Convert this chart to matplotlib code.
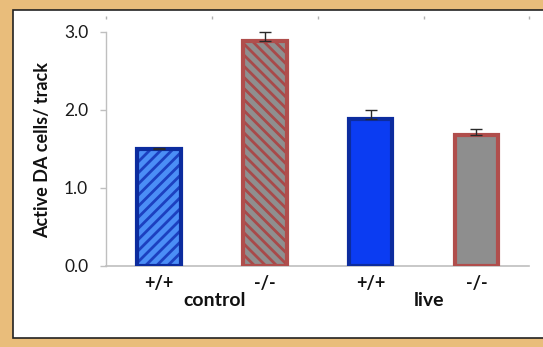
import matplotlib
matplotlib.use("Agg")
import matplotlib.pyplot as plt
from matplotlib.patches import Rectangle
from matplotlib.ticker import FixedLocator

# Data
genotypes = ["+/+", "-/-", "+/+", "-/-"]
groups = ["control", "live"]
values = [1.50, 2.88, 1.88, 1.67]
errors = [0.01, 0.12, 0.12, 0.08]
yticks = [0.0, 1.0, 2.0, 3.0]

# Styling per bar
fills = ["#4b8ef6", "#8f8f8f", "#0b3cf2", "#8e8e8e"]
edges = ["#0c2c9e", "#b04e4c", "#0c2c9e", "#b04e4c"]
hatches = ["///", "\\\\\\", None, None]
hatch_colors = ["#1c40c0", "#a84a4a", None, None]

plt.rcParams["font.family"] = ["Lato", "DejaVu Sans"]
plt.rcParams["hatch.linewidth"] = 2.0

fig = plt.figure(figsize=(5.43, 3.47), dpi=100, facecolor="#e9bd7b")
fig.patches.append(Rectangle((12.8 / 543, 9 / 347), 1.0, 328.5 / 347,
                             transform=fig.transFigure, facecolor="white",
                             edgecolor="#222222", linewidth=1.2, zorder=-1))

ax = fig.add_axes([106.3 / 543, 81.3 / 347, 423 / 543, 249.6 / 347])
ax.patch.set_alpha(0)

x = list(range(len(values)))
width = 0.41
lw = 3.0

# fill layer
ax.bar(x, values, width, color=fills, linewidth=0, zorder=2)
# hatch layer
for xi, v, h, hc in zip(x, values, hatches, hatch_colors):
    if h:
        ax.bar(xi, v, width, facecolor="none", edgecolor=hc, hatch=h,
               linewidth=0, zorder=3)
# outline layer
ax.bar(x, values, width, facecolor="none", edgecolor=edges, linewidth=lw,
       zorder=4)

ax.errorbar(x, values, yerr=[[0] * len(errors), errors], fmt="none",
            ecolor="#2a2a2a", elinewidth=1.0, capsize=4, capthick=1.0,
            zorder=5)

ax.set_xlim(-0.5, 3.5)
ax.set_ylim(0, 3.2)

for s in ["top", "right"]:
    ax.spines[s].set_visible(False)
ax.spines["left"].set_bounds(0, 3)
ax.spines["left"].set_color("#bfbfbf")
ax.spines["bottom"].set_color("#bfbfbf")
ax.spines["left"].set_linewidth(1.0)
ax.spines["bottom"].set_linewidth(1.2)

ax.set_yticks(yticks)
ax.set_yticklabels([f"{t:.1f}" for t in yticks])
ax.tick_params(axis="y", length=4, width=1.0, color="#bfbfbf", pad=9,
               labelsize=12.5, labelcolor="#1a1a1a")

ax.set_xticks(x)
ax.set_xticklabels(genotypes, fontweight="bold")
ax.tick_params(axis="x", which="major", length=0, pad=7, labelsize=13,
               labelcolor="#111111")

# faint category separators along the top
ax.xaxis.set_minor_locator(FixedLocator([-0.5, 0.5, 1.5, 2.5, 3.5]))
ax.tick_params(axis="x", which="minor", bottom=False, top=True,
               direction="in", length=2.5, width=1.0, color="#b0b0b0")

ax.set_ylabel("Active DA cells/ track", fontsize=13, fontweight="bold",
              color="#111111")
ax.yaxis.set_label_coords(-0.131, 0.4636)

ax.text(0.52, -0.138, groups[0], transform=ax.get_xaxis_transform(),
        ha="center", va="center", fontsize=14, fontweight="bold",
        color="#111111")
ax.text(2.55, -0.138, groups[1], transform=ax.get_xaxis_transform(),
        ha="center", va="center", fontsize=14, fontweight="bold",
        color="#111111")

fig.savefig("out.png", dpi=100, facecolor=fig.get_facecolor())
